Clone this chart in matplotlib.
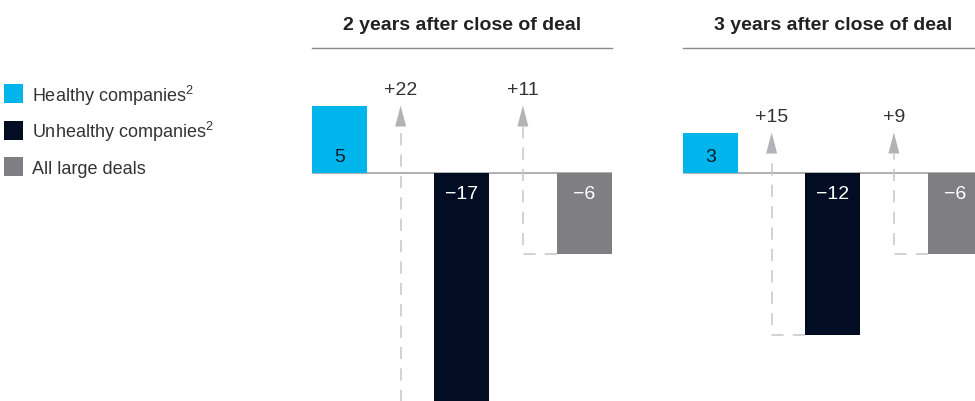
import matplotlib
matplotlib.use('Agg')
import matplotlib.pyplot as plt
from matplotlib.patches import Rectangle

plt.rcParams['font.family'] = ['Liberation Sans', 'DejaVu Sans']
plt.rcParams['mathtext.fontset'] = 'custom'
plt.rcParams['mathtext.rm'] = 'Liberation Sans'

# ── Data ───────────────────────────────────────────────────────────────────────
PERIODS = ['2 years after close of deal', '3 years after close of deal']
GROUPS = ['Healthy companies$^{\\mathregular{2}}$',
          'Unhealthy companies$^{\\mathregular{2}}$',
          'All large deals']
HEALTHY = [5, 3]
UNHEALTHY = [-17, -12]
ALL_DEALS = [-6, -6]
GAP_VS_UNHEALTHY = [22, 15]
GAP_VS_ALL = [11, 9]

COLORS = ['#00b4ec', '#020d24', '#7f7f83']
LABEL_COLORS = ['#051c2c', 'white', 'white']
DASH_GREY = '#c6c6c6'
HEAD_GREY = '#b3b3b7'

# ── Layout (pixels) ────────────────────────────────────────────────────────────
W, H = 975, 402
PX_UNIT = 13.5      # px per point of change
BASE = 174          # zero line, px from top
STEP = 122.25       # px between bar centres
BAR_W = 0.45
PANEL_LEFT = [312, 683]


def fx(px):
    return px / W


def fy(py):
    return 1 - py / H


def fmt(v):
    return str(v) if v > 0 else '\u2212' + str(abs(v))


fig = plt.figure(figsize=(W / 100, H / 100), dpi=100)

xlim = (-BAR_W / 2, 2 + BAR_W / 2)
ax_w = (xlim[1] - xlim[0]) * STEP
ylim = (-(H - BASE) / PX_UNIT, BASE / PX_UNIT)
head_len = 21 / PX_UNIT
half_w = 5.5 / STEP

for i, period in enumerate(PERIODS):
    ax = fig.add_axes([fx(PANEL_LEFT[i]), 0, ax_w / W, 1])
    ax.set_xlim(xlim)
    ax.set_ylim(ylim)
    ax.axis('off')

    vals = [HEALTHY[i], UNHEALTHY[i], ALL_DEALS[i]]
    ax.bar(range(3), vals, width=BAR_W, color=COLORS, zorder=2)
    ax.axhline(0, color='#a3a3a3', lw=1.2, zorder=1)

    for x, v, c in zip(range(3), vals, LABEL_COLORS):
        off = 8.3 if v > 0 else -18
        ax.annotate(fmt(v), (x, 0), xytext=(0, off), textcoords='offset points',
                    ha='center', va='baseline', fontsize=14, color=c, zorder=3)

    # dashed arrows from each bar up to the healthy level
    tip = HEALTHY[i]
    for k, gap in enumerate([GAP_VS_UNHEALTHY[i], GAP_VS_ALL[i]]):
        xa = k + 0.5
        start = tip - gap
        ax.plot([k + 1 - BAR_W / 2, xa, xa], [start, start, tip - head_len],
                color=DASH_GREY, lw=1.1, linestyle=(0, (8, 6)), zorder=1)
        ax.fill([xa - half_w, xa + half_w, xa],
                [tip - head_len, tip - head_len, tip],
                color=HEAD_GREY, lw=0, zorder=2)
        ax.annotate(f'+{gap}', (xa, tip), xytext=(0, 8.6), textcoords='offset points',
                    ha='center', va='baseline', fontsize=14, color='#333333')

    # panel header
    ax.plot([0, 1], [fy(49)] * 2, transform=ax.transAxes, color='#8a8a8a',
            lw=1.0, clip_on=False)
    ax.text(0.5, fy(30), period, transform=ax.transAxes, ha='center',
            va='baseline', fontsize=14, fontweight='bold', color='#222222')

# ── Legend ─────────────────────────────────────────────────────────────────────
for j, (label, c) in enumerate(zip(GROUPS, COLORS)):
    top = 85 + 36.5 * j
    fig.add_artist(Rectangle((fx(4), fy(top + 19)), 19 / W, 19 / H,
                             transform=fig.transFigure, color=c, lw=0))
    fig.text(fx(32), fy(102 + 36 * j), label, fontsize=13, va='baseline',
             color='#333333')

fig.savefig('out.png', dpi=100)
